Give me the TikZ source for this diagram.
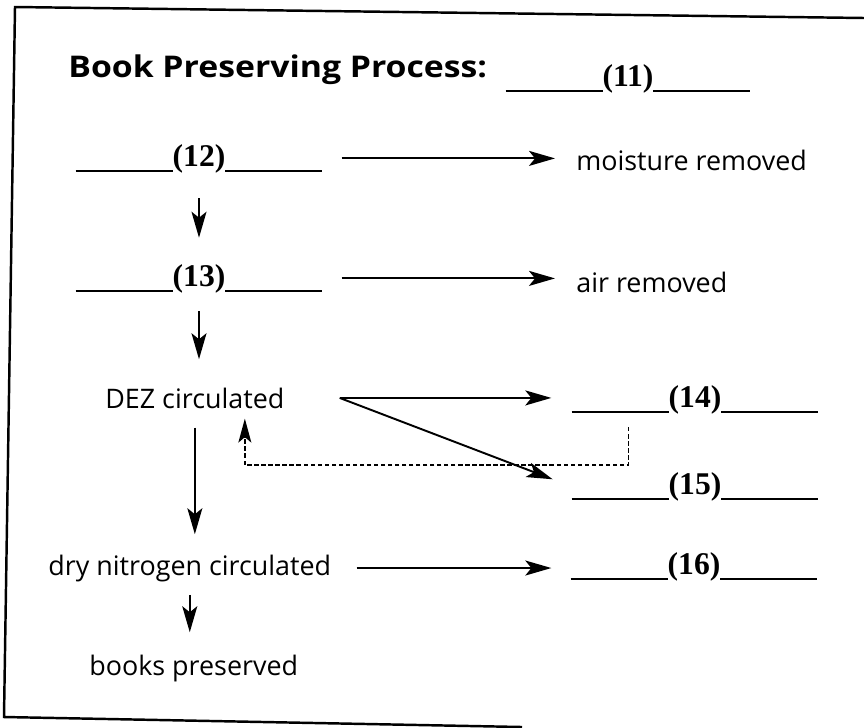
\documentclass[tikz,border=0pt]{standalone}
\usepackage{fontspec}
\setmainfont{Open Sans}
\newfontfamily\ttlfont{Open Sans}[FakeStretch=1.13]
\newfontfamily\numfont{Liberation Serif}
\usetikzlibrary{arrows.meta,calc}
\newcommand{\blank}[1]{\rule[-3.5pt]{1.94cm}{1.1pt}{\numfont\bfseries(#1)}\rule[-3.5pt]{1.94cm}{1.1pt}}

\begin{document}
\begin{tikzpicture}[x=0.02cm,y=-0.02cm,
        txt/.style={inner sep=0pt,font=\fontsize{15.3}{18}\selectfont},
        ttl/.style={inner sep=0pt,font=\ttlfont\fontsize{17}{20}\selectfont\bfseries},
        gap/.style={inner sep=0pt,font=\fontsize{18}{21}\selectfont},
        arr/.style={line width=1.1pt,-{Stealth[length=0.52cm,width=0.3cm,inset=0.12cm]}},
        fb/.style={line width=0.8pt,dash pattern=on 2.5pt off 1.5pt,-{Stealth[length=0.48cm,width=0.26cm,inset=0.11cm]}}]
                \useasboundingbox (0,0) rectangle (864,727);
                \draw[line width=1.4pt] (864,18) -- (15,7) -- (4,717) -- (522,727);

                \node[ttl,anchor=base west] (title) at (68,77) {Book Preserving Process:};
                \node[gap,anchor=base] (b11) at (628,86) {\blank{11}};
                \node[gap,anchor=base] (b12) at (199,166) {\blank{12}};
                \node[txt,anchor=base west] (moist) at (576,170) {moisture removed};
                \node[gap,anchor=base] (b13) at (199,286) {\blank{13}};
                \node[txt,anchor=base west] (air) at (576,292) {air removed};
                \node[txt,anchor=base west] (dez) at (105,408) {DEZ circulated};
                \node[gap,anchor=base] (b14) at (695,407) {\blank{14}};
                \node[gap,anchor=base] (b15) at (695,494) {\blank{15}};
                \node[txt,anchor=base west] (dry) at (48,575) {dry nitrogen circulated};
                \node[gap,anchor=base] (b16) at (694,574) {\blank{16}};
                \node[txt,anchor=base west] (books) at (89,675) {books preserved};
                \coordinate (fork) at ([xshift=1.1cm]dez.east);

                \draw[arr,shorten <=0.38cm,shorten >=0.42cm] (b12.east) -- (b12.east -| moist.west);
                \draw[arr,shorten <=0.38cm,shorten >=0.42cm] (b13.east) -- (b13.east -| air.west);
                \draw[arr,shorten <=0.5cm,shorten >=0.52cm] (b12.south) -- (b12.south |- b13.north);
                \draw[arr,shorten <=0.36cm,shorten >=0.56cm] (b13.south) -- (b13.south |- dez.north);
                \draw[arr,shorten <=0.38cm,shorten >=0.4cm] (dez.south) -- (dez.south |- dry.north);
                \draw[arr,shorten <=0.26cm,shorten >=0.44cm] (dry.south) -- (dry.south |- books.north);
                \draw[arr,shorten >=0.4cm] (fork) -- (fork -| b14.west);
                \draw[arr,shorten >=0.4cm] (fork) -- (b15.west);
                \draw[arr,shorten <=0.5cm,shorten >=0.38cm] (dry.east) -- (dry.east -| b16.west);
                \draw[fb] ($(b14.south west)+(57,13)$) -- ++(0,38) -| ($(dez.south)+(50,10)$);
            \end{tikzpicture}
\end{document}
